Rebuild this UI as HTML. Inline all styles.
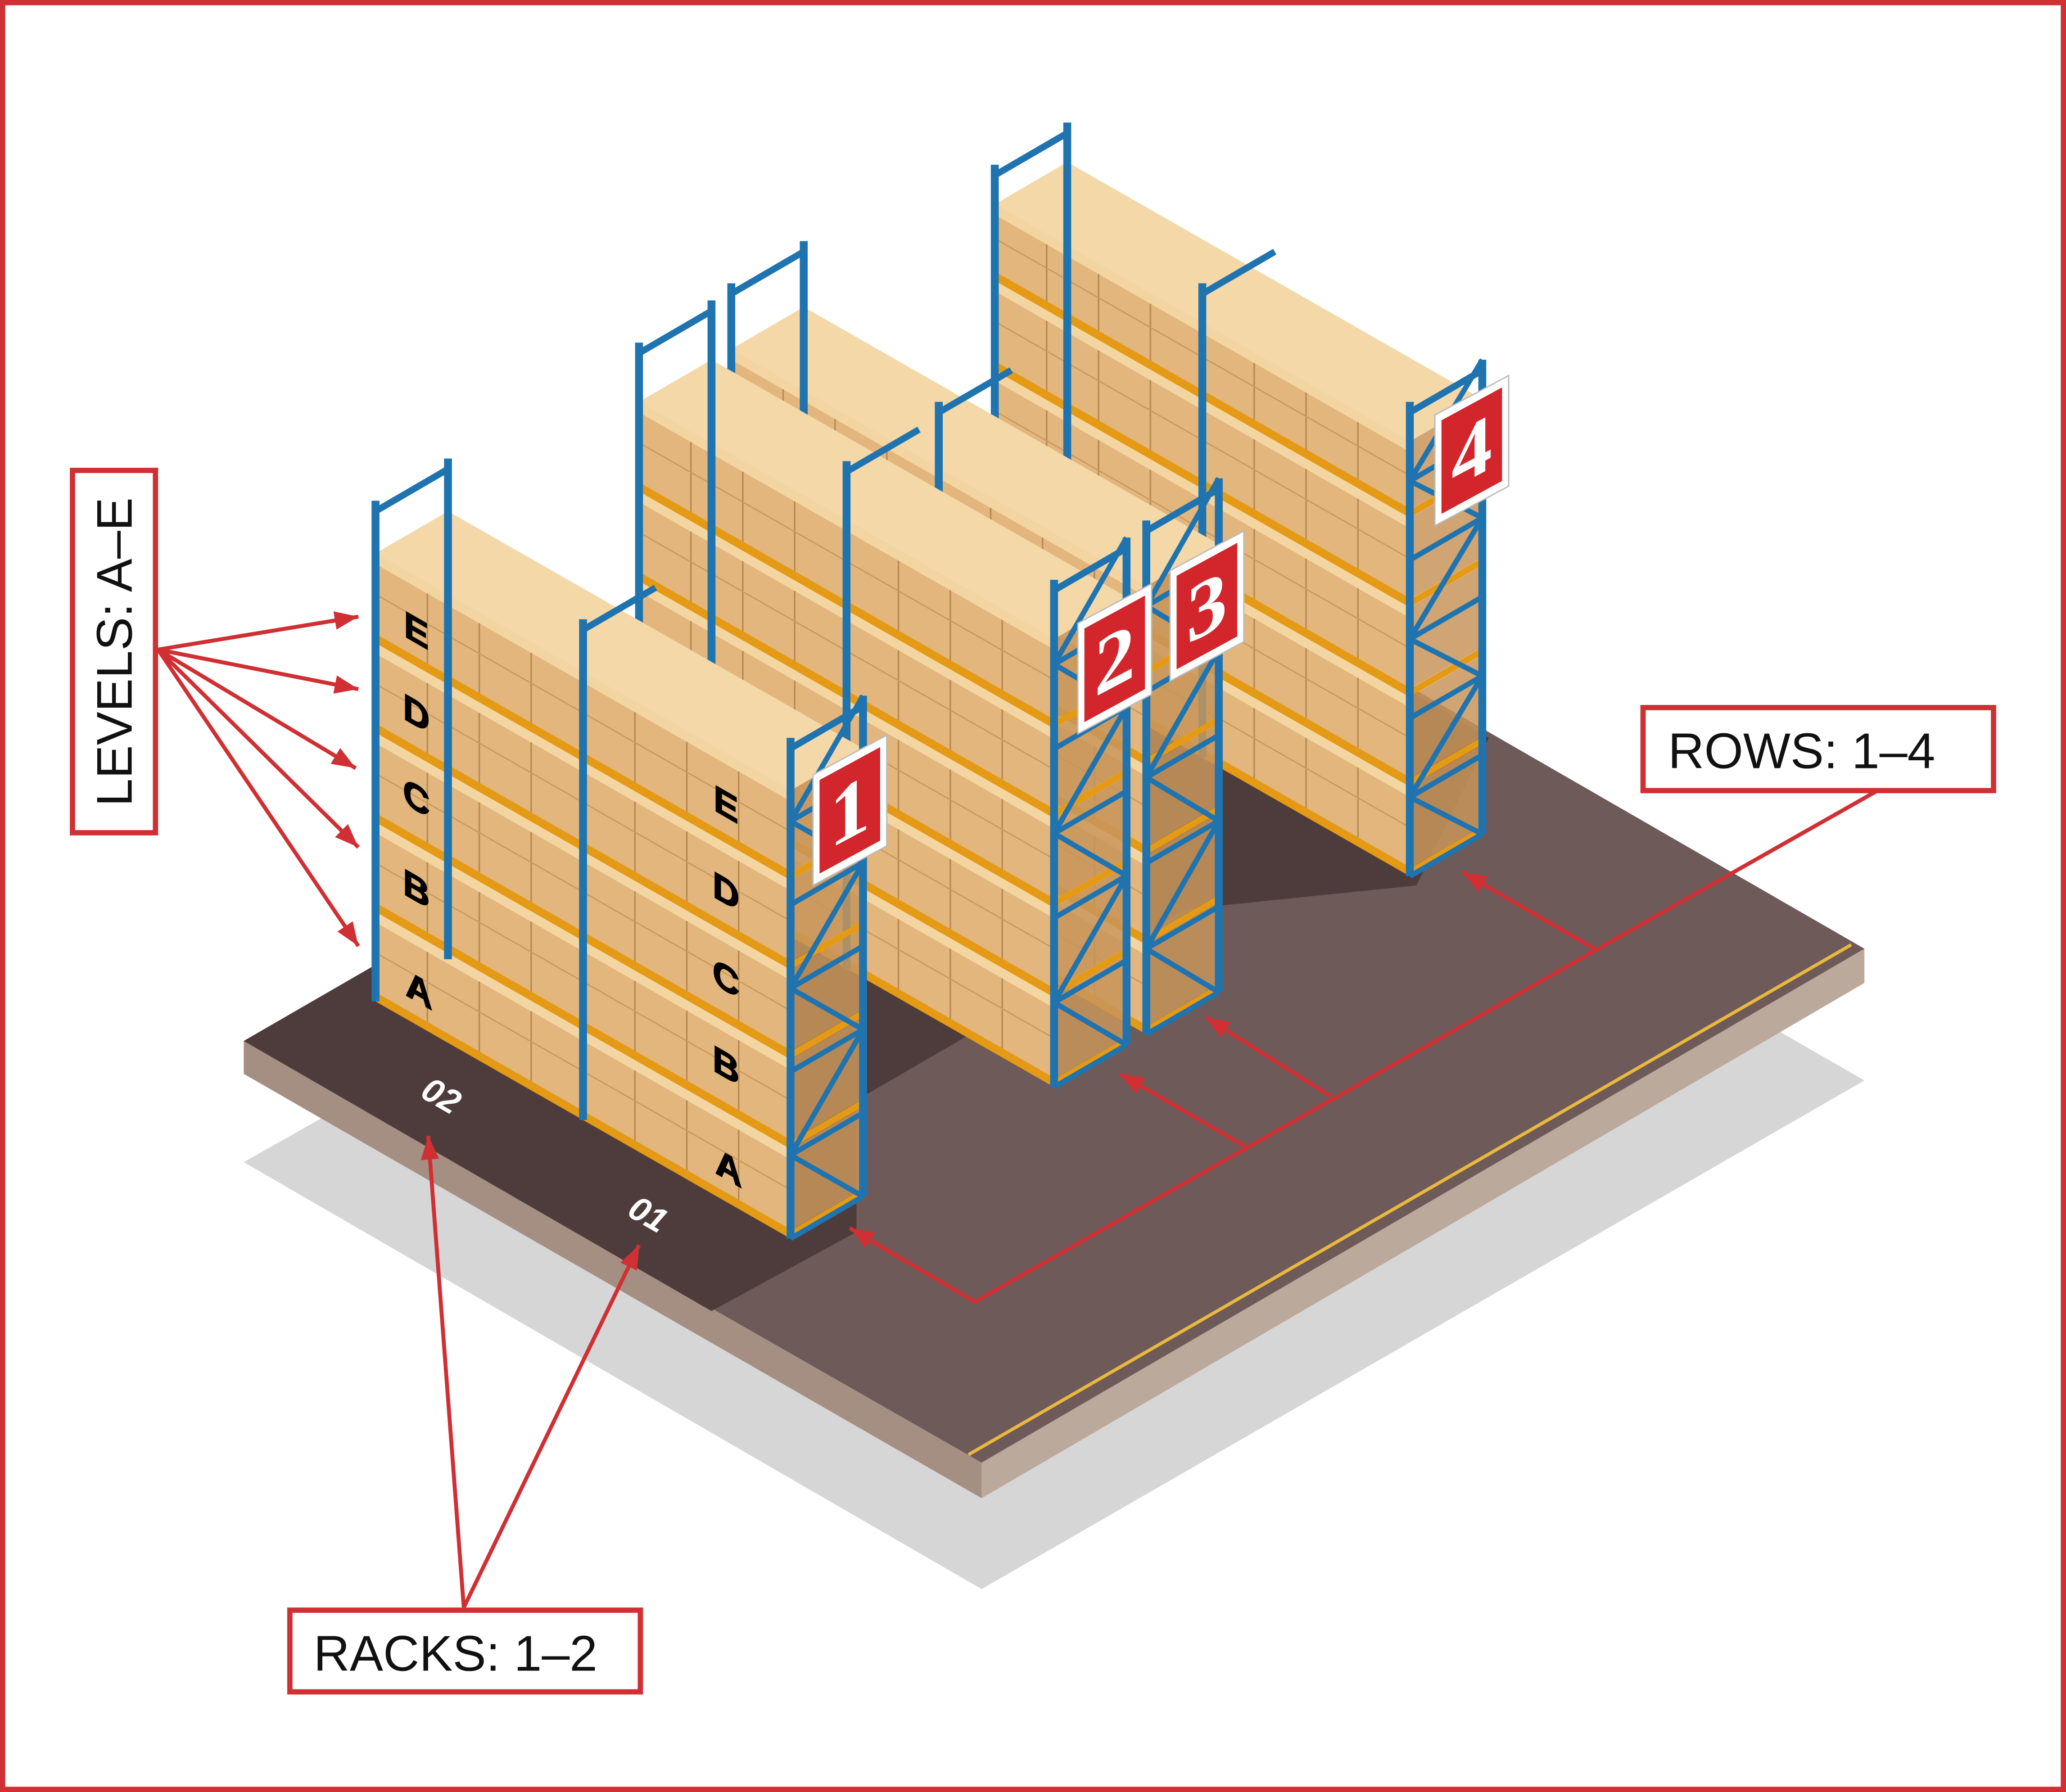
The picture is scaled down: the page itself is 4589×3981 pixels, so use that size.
<!DOCTYPE html>
<html><head><meta charset="utf-8"><style>
html,body{margin:0;padding:0;background:#fff}
svg{display:block}
text{font-family:"Liberation Sans",sans-serif}
</style></head><body>
<svg id="s" width="4589" height="3981" viewBox="0 0 1568 1360" preserveAspectRatio="none" xmlns="http://www.w3.org/2000/svg">
<rect x="2" y="2" width="1564" height="1356" fill="#fff" stroke="#d03034" stroke-width="4"/>
<polygon points="185,882 745,1206 1415,820 860,500" fill="#d6d6d6"/>
<polygon points="185,790 745,1110 745,1137 185,815" fill="#a58f82"/>
<polygon points="745,1110 1415,720 1415,746 745,1137" fill="#bba99b"/>
<polygon points="185,790 745,1110 1415,720 860,400" fill="#6e5a58"/>
<polygon points="185,790 540,995 650,935 650,835 900,690 1075,672 1130,560 860,400" fill="#4e3c3c"/>
<line x1="735" y1="1104" x2="1405" y2="717" stroke="#e8b840" stroke-width="2.5"/>
<g id="racks"></g>
<text x="0" y="0" transform="translate(318,832) rotate(30)" font-size="26" font-weight="bold" font-style="italic" fill="#fff">02</text>
<text x="0" y="0" transform="translate(475,922) rotate(30)" font-size="26" font-weight="bold" font-style="italic" fill="#fff">01</text>
<g id="ann" stroke="#d03034" stroke-width="3" fill="none"></g>
<rect x="55" y="357" width="63" height="275" fill="#fff" stroke="#d03034" stroke-width="4"/>
<text transform="translate(100,612) rotate(-90)" font-size="38" fill="#111">LEVELS: A–E</text>
<rect x="1247" y="537" width="266" height="63" fill="#fff" stroke="#d03034" stroke-width="4"/>
<text x="1266" y="583" font-size="38" fill="#111">ROWS: 1–4</text>
<rect x="220" y="1222" width="266" height="62" fill="#fff" stroke="#d03034" stroke-width="4"/>
<text x="238" y="1268" font-size="38" fill="#111">RACKS: 1–2</text>
</svg>
<script>
const NS="http://www.w3.org/2000/svg";
const g=document.getElementById('racks');
function el(t,a,p){const e=document.createElementNS(NS,t);for(const k in a)e.setAttribute(k,a[k]);(p||g).appendChild(e);return e;}
function P(pts){return pts.map(p=>p[0].toFixed(1)+','+p[1].toFixed(1)).join(' ');}
function add(a,b){return [a[0]+b[0],a[1]+b[1]];}
function up(p,h){return [p[0],p[1]-h];}
function lerp(a,b,t){return [a[0]+(b[0]-a[0])*t,a[1]+(b[1]-a[1])*t];}
const BLUE="#1f74b0",OR="#e59a16";
function row(L,R,D,H,UH){
  const hs=[0,68,136,204,272];
  const LD=add(L,D),RD=add(R,D);
  el('polygon',{points:P([up(L,H),up(R,H),up(RD,H),up(LD,H)]),fill:"#f4d8a8"});
  for(let i=0;i<5;i++){
    const h0=hs[i]+6,h1=(i<4?hs[i+1]:H);
    el('polygon',{points:P([up(L,h0),up(R,h0),up(R,h1),up(L,h1)]),fill:"#e2b67c"});
    el('polygon',{points:P([up(L,h1-8),up(R,h1-8),up(R,h1),up(L,h1)]),fill:"#f3d5a2"});
    for(let k=1;k<8;k++){const a=lerp(L,R,k/8);el('line',{x1:a[0],y1:a[1]-h0,x2:a[0],y2:a[1]-h1+8,stroke:"#b98b52","stroke-width":1.2});}
    const m0=lerp(L,R,0),m1=lerp(L,R,1);
    el('line',{x1:m0[0],y1:m0[1]-(h0+h1)/2,x2:m1[0],y2:m1[1]-(h0+h1)/2,stroke:"#c99a60","stroke-width":1});
    el('polygon',{points:P([up(R,h0),up(RD,h0),up(RD,h1),up(R,h1)]),fill:"#c8955a",opacity:0.85});
  }
  for(const h of hs){
    el('polygon',{points:P([up(L,h),up(R,h),up(R,h+7),up(L,h+7)]),fill:OR});
    el('line',{x1:R[0],y1:R[1]-h-3,x2:RD[0],y2:RD[1]-h-3,stroke:OR,"stroke-width":5});
  }
  const sw=6;
  [L,lerp(L,R,0.5),R].forEach(p=>el('line',{x1:p[0],y1:p[1],x2:p[0],y2:p[1]-UH,stroke:BLUE,"stroke-width":sw}));
  [LD,RD].forEach(p=>el('line',{x1:p[0],y1:p[1],x2:p[0],y2:p[1]-UH,stroke:BLUE,"stroke-width":sw}));
  [L,lerp(L,R,0.5),R].forEach(p=>{const q=add(p,D);el('line',{x1:p[0],y1:p[1]-UH+8,x2:q[0],y2:q[1]-UH+8,stroke:BLUE,"stroke-width":5});});
  let n=6;
  for(let i=0;i<n;i++){
    const a=i/n*UH,b=(i+1)/n*UH;
    const p1=i%2?up(R,a):up(RD,a),p2=i%2?up(RD,b):up(R,b);
    el('line',{x1:p1[0],y1:p1[1],x2:p2[0],y2:p2[1],stroke:BLUE,"stroke-width":4});
    el('line',{x1:R[0],y1:R[1]-a,x2:RD[0],y2:RD[1]-a,stroke:BLUE,"stroke-width":4});
  }
  el('line',{x1:R[0],y1:R[1]-UH+8,x2:RD[0],y2:RD[1]-UH+8,stroke:BLUE,"stroke-width":5});
}
const D=[55,-32];
row([755,485],[1070,665],D,330,360);
row([555,605],[870,785],D,340,390);
row([485,645],[800,825],D,340,385);
row([285,760],[600,940],D,340,380);
function letter(ch,x,y){const t=el('text',{transform:`translate(${x},${y}) skewY(30)`,"font-size":28,"font-weight":900,fill:"#000",stroke:"#000","stroke-width":0.8,"text-anchor":"middle"});t.textContent=ch;}
[['E',316,488],['D',316,551],['C',316,615],['B',316,684],['A',318,761]].forEach(a=>letter(...a));
[['E',551,620],['D',551,686],['C',551,752],['B',551,818],['A',553,896]].forEach(a=>letter(...a));
function sign(n,x,y){
  el('polygon',{points:P([[x-28,y-22],[x+28,y-52],[x+28,y+32],[x-28,y+62]]),fill:"#fff",stroke:"#bbb","stroke-width":1});
  el('polygon',{points:P([[x-23,y-18],[x+23,y-43],[x+23,y+28],[x-23,y+53]]),fill:"#d2262c"});
  const t=el('text',{transform:`translate(${x},${y+26}) skewY(-28)`,"font-size":62,"font-weight":"bold",fill:"#fff","text-anchor":"middle"});
  t.style.fontFamily='"Liberation Serif",serif';t.textContent=n;
}
sign('1',645,610);sign('2',846,495);sign('3',916,455);sign('4',1117,337);
const ann=document.getElementById('ann');
function arrow(x1,y1,x2,y2){
  el('line',{x1,y1,x2,y2},ann);
  const a=Math.atan2(y2-y1,x2-x1),L=18,W=7;
  const bx=x2-L*Math.cos(a),by=y2-L*Math.sin(a);
  el('polygon',{points:P([[x2,y2],[bx-W*Math.sin(a),by+W*Math.cos(a)],[bx+W*Math.sin(a),by-W*Math.cos(a)]]),fill:"#d03034",stroke:"none"},ann);
}
[[272,468],[272,523],[270,583],[272,643],[272,718]].forEach(p=>arrow(120,493,p[0],p[1]));
el('polyline',{points:"1425,600 740,988 660,941"},ann);
arrow(680,953,645,932);
arrow(1210,720,1110,662);
arrow(1010,832,915,772);
arrow(945,870,850,815);
arrow(352,1220,325,862);
arrow(352,1220,485,945);
</script>
</body></html>
